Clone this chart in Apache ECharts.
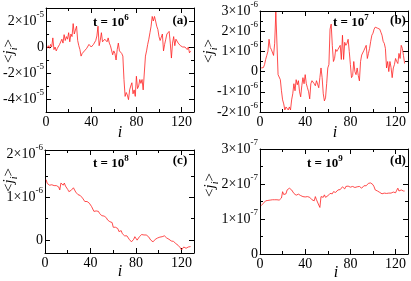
<!DOCTYPE html>
<html><head><meta charset="utf-8">
<script src="https://cdn.jsdelivr.net/npm/echarts@6/dist/echarts.min.js"></script>
<style>html,body{margin:0;padding:0;background:#fff}#c{width:411px;height:281px}</style>
</head><body><div id="c"></div>
<script>
// site index i = 1..128
const siteCount = 128;
// panel (a) t=1e6, units of 1e-5
const jA = [-0.1,0.1,-0.1,0.2,0.0,0.7,-0.2,0.0,-0.3,-0.1,0.0,0.2,0.1,0.6,0.3,0.95,0.5,0.8,0.6,1.1,
0.4,1.0,0.8,1.8,1.0,1.3,1.6,0.5,0.1,-0.2,-0.7,-0.5,-0.5,-0.3,-0.2,-0.1,0.05,0.2,0.1,0.0,
-0.1,0.2,0.1,0.5,0.85,1.6,0.1,0.5,1.1,0.4,0.5,0.6,0.5,0.4,0.7,0.3,0.1,0.0,-0.6,-0.3,
-0.5,-1.0,-0.2,0.3,-0.3,-0.2,-0.5,-0.7,-2.5,-3.8,-3.5,-3.7,-4.05,-3.3,-3.0,-2.75,-3.6,-3.3,-3.8,-2.25,
-3.2,-3.0,-2.5,-2.8,-2.5,-3.3,-2.0,-0.7,-0.3,0.2,0.6,1.1,1.6,2.35,2.0,2.35,2.0,1.6,1.35,0.8,
0.5,0.45,1.0,-0.3,0.2,0.6,1.0,1.15,1.2,0.3,-0.85,0.3,0.8,0.1,0.6,0.5,0.3,0.2,0.1,0.1,
0.0,0.05,0.0,-0.1,-0.2,0.0,-0.45,-0.3];
// panel (b) t=1e7, units of 1e-6
const jB = [0.18,0.1,0.2,0.34,0.6,0.8,1.0,1.6,1.2,1.1,1.05,0.8,1.4,2.95,3.0,-0.15,-0.2,-0.4,-0.95,-1.4,
-1.6,-1.9,-1.75,-1.8,-1.9,-1.75,-1.9,-1.4,-1.1,-0.6,-0.95,-0.4,-0.65,-0.45,-1.0,-1.25,-0.7,-0.3,-0.6,-0.15,
-0.6,-0.8,-1.0,-1.35,-0.6,-0.45,-0.5,-0.6,-0.7,-0.45,-0.5,-0.8,-0.3,0.18,-0.3,-1.1,-1.45,-1.3,-0.6,0.18,
0.35,2.1,2.35,1.3,0.5,0.65,1.1,1.0,1.1,1.15,1.3,0.6,1.8,0.6,1.45,1.3,1.4,1.6,1.0,0.35,
-0.3,-0.2,0.5,0.0,-0.15,0.18,-0.2,-0.46,0.5,0.82,0.75,1.05,1.1,1.3,0.65,0.9,1.15,1.5,1.8,1.9,
2.1,2.2,2.25,2.15,2.2,2.1,1.95,1.8,1.5,1.4,1.15,0.18,0.5,0.0,0.5,0.2,-0.3,0.18,0.35,0.65,
0.5,0.4,0.9,0.65,1.3,1.15,0.8,0.4];
// panel (c) t=1e8, units of 1e-6
const jC = [1.41,1.32,1.29,1.28,1.3,1.29,1.29,1.27,1.25,1.27,1.29,1.24,1.17,1.33,1.3,1.28,1.33,1.26,1.22,1.18,
1.13,1.14,1.16,1.17,1.22,1.19,1.12,1.08,1.06,1.02,1.04,1.0,0.98,0.95,0.9,0.92,0.9,0.87,0.86,0.82,
0.78,0.82,0.67,0.7,0.68,0.69,0.67,0.62,0.59,0.57,0.55,0.56,0.55,0.52,0.47,0.47,0.43,0.39,0.41,0.3,
0.27,0.3,0.28,0.27,0.2,0.16,0.22,0.15,0.12,0.1,0.08,0.1,0.06,0.02,0.0,-0.04,0.0,0.02,0.08,0.05,
0.0,0.04,0.08,0.12,0.13,0.14,0.12,0.13,0.12,0.08,0.08,0.04,0.0,-0.02,-0.04,0.0,0.02,0.03,0.05,0.06,
0.07,0.08,0.08,0.09,0.1,0.08,0.05,0.04,0.02,0.0,-0.02,-0.04,-0.03,-0.06,-0.08,-0.1,-0.12,-0.16,-0.18,-0.23,
-0.2,-0.16,-0.2,-0.19,-0.17,-0.16,-0.16,-0.15];
// panel (d) t=1e9, units of 1e-7
const jD = [1.38,1.42,1.45,1.5,1.52,1.5,1.53,1.55,1.54,1.56,1.55,1.53,1.55,1.54,1.55,1.54,1.54,1.56,1.6,1.78,
1.7,1.75,1.72,1.83,1.78,1.88,1.86,1.83,1.78,1.73,1.7,1.68,1.73,1.71,1.69,1.67,1.65,1.64,1.66,1.63,
1.62,1.64,1.66,1.62,1.6,1.55,1.5,1.52,1.64,1.55,1.5,1.4,1.33,1.64,1.6,1.62,1.69,1.62,1.6,1.66,
1.7,1.73,1.68,1.72,1.78,1.74,1.76,1.8,1.83,1.79,1.84,1.88,1.92,1.88,1.86,1.93,1.92,1.94,1.92,1.91,
1.92,1.93,1.92,1.9,1.91,1.92,1.94,1.93,1.91,1.88,1.92,1.95,1.97,1.95,1.96,2.02,2.04,2.03,2.02,1.98,
1.92,1.83,1.85,1.8,1.78,1.76,1.78,1.72,1.69,1.74,1.72,1.73,1.75,1.74,1.76,1.74,1.76,1.77,1.78,1.75,
1.82,1.88,1.8,1.78,1.83,1.79,1.8,1.8];

const xMajor = [0,40,80,120];
const xMinor = [20,60,100];
const yMajorA = [-4,-2,0,2], yMinorA = [-3,-1,1];
const yMajorB = [-2,-1,0,1,2,3], yMinorB = [-1.5,-0.5,0.5,1.5,2.5];
const yMajorC = [0,1,2], yMinorC = [0.5,1.5];
const yMajorD = [0,1,2,3], yMinorD = [0.5,1.5,2.5];
const exps = [-5,-6,-6,-7];
const times = ['6','7','8','9'];
const letters = ['(a)','(b)','(c)','(d)'];

const FONT = 'Liberation Serif';
const panels = [
  {grid:{left:45,top:8,width:149,height:104}, yMin:-5, yMax:3, maj:yMajorA, min:yMinorA, data:jA,
   title:[93,23], letter:[180,21], yname:[9,51], xname:[120,133]},
  {grid:{left:260,top:8,width:148,height:104}, yMin:-2, yMax:3, maj:yMajorB, min:yMinorB, data:jB,
   title:[333,23], letter:[398,21], yname:[209,51], xname:[335,133]},
  {grid:{left:45,top:150,width:149,height:103}, yMin:-0.3, yMax:2.1, maj:yMajorC, min:yMinorC, data:jC,
   title:[93,164], letter:[180,161], yname:[9,180], xname:[120,272]},
  {grid:{left:260,top:149,width:148,height:105}, yMin:0, yMax:3, maj:yMajorD, min:yMinorD, data:jD,
   title:[307,164], letter:[398,161], yname:[210,185], xname:[336,273]},
];

const black = '#000';
const grids = [], xAxes = [], yAxes = [], series = [], graphics = [];

panels.forEach((p, g) => {
  grids.push(Object.assign({containLabel:false}, p.grid));
  const xb = {type:'value', gridIndex:g, min:0, max:131, splitLine:{show:false}};
  const mk = (pos, vals, len, line, label) => Object.assign({}, xb, {
    position:pos,
    axisLine:{show:line, onZero:false, lineStyle:{color:black, width:1}},
    axisTick:{show:true, inside:true, length:len, customValues:vals, lineStyle:{color:black, width:1}},
    axisLabel: label ? {show:true, customValues:xMajor, margin:3, color:black, fontFamily:FONT, fontSize:14}
                     : {show:false}
  });
  xAxes.push(mk('bottom', xMajor, 5, true, true));
  xAxes.push(mk('bottom', xMinor, 3, false, false));
  xAxes.push(mk('top', xMajor, 5, true, false));
  xAxes.push(mk('top', xMinor, 3, false, false));

  const e = exps[g];
  const yb = {type:'value', gridIndex:g, min:p.yMin, max:p.yMax, splitLine:{show:false}};
  const mky = (pos, vals, len, line, label) => Object.assign({}, yb, {
    position:pos,
    axisLine:{show:line, onZero:false, lineStyle:{color:black, width:1}},
    axisTick:{show:true, inside:true, length:len, customValues:vals, lineStyle:{color:black, width:1}},
    axisLabel: label ? {
      show:true, customValues:p.maj, margin:2, color:black, fontFamily:FONT, fontSize:14,
      formatter: v => Math.abs(v) < 1e-9 ? '0' : '{b|' + Math.round(v) + '×10}{s|' + e + '}',
      rich:{
        b:{fontFamily:FONT, fontSize:14, lineHeight:22, color:black},
        s:{fontFamily:FONT, fontSize:9, lineHeight:12, verticalAlign:'top', color:black}
      }
    } : {show:false}
  });
  yAxes.push(mky('left', p.maj, 5, true, true));
  yAxes.push(mky('left', p.min, 3, false, false));
  yAxes.push(mky('right', p.maj, 5, true, false));
  yAxes.push(mky('right', p.min, 3, false, false));

  series.push({
    type:'line', xAxisIndex:g*4, yAxisIndex:g*4, showSymbol:false, symbol:'none',
    lineStyle:{color:'#ff2020', width:0.8}, silent:true,
    data: p.data.map((v, k) => [k + 1, v])
  });

  graphics.push({type:'text', x:p.title[0], y:p.title[1], style:{
    text:'{b|t = 10}{s|' + times[g] + '}', align:'left', verticalAlign:'middle',
    rich:{b:{fontFamily:FONT, fontWeight:'bold', fontSize:13, lineHeight:20, fill:black, color:black},
          s:{fontFamily:FONT, fontWeight:'bold', fontSize:9, lineHeight:11, verticalAlign:'top', fill:black, color:black}}
  }});
  graphics.push({type:'text', x:p.letter[0], y:p.letter[1], style:{
    text:letters[g], align:'center', verticalAlign:'middle',
    font:'bold 13px "' + FONT + '"', fill:black
  }});
  graphics.push({type:'text', x:p.yname[0], y:p.yname[1], rotation:Math.PI/2, style:{
    text:'{n|<}{j|j}{s|i}{n|>}', align:'center', verticalAlign:'middle',
    rich:{n:{fontFamily:FONT, fontSize:15, lineHeight:20, fill:black, color:black},
          j:{fontFamily:FONT, fontStyle:'italic', fontSize:15, lineHeight:20, fill:black, color:black},
          s:{fontFamily:FONT, fontStyle:'italic', fontSize:10, lineHeight:12, verticalAlign:'bottom', fill:black, color:black}}
  }});
  graphics.push({type:'text', x:p.xname[0], y:p.xname[1], style:{
    text:'i', align:'center', verticalAlign:'middle',
    font:'italic 16px "' + FONT + '"', fill:black
  }});
});

const chart = echarts.init(document.getElementById('c'), null, {renderer:'canvas'});
chart.setOption({
  animation:false,
  grid:grids, xAxis:xAxes, yAxis:yAxes, series:series, graphic:graphics
});
</script>
</body></html>
